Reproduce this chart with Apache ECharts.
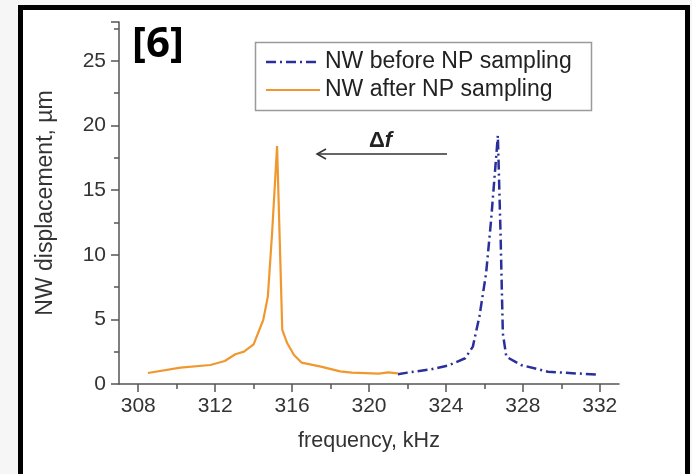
<!DOCTYPE html>
<html>
<head>
<meta charset="utf-8">
<script src="https://cdn.jsdelivr.net/npm/echarts@6/dist/echarts.min.js"></script>
<style>
  html, body { margin: 0; padding: 0; background: #f6f6f6; }
  #chart { width: 692px; height: 474px; }
</style>
</head>
<body>
<div id="chart"></div>
<script>
// Resonance curves of the nanowire (frequency in kHz, displacement in µm)
const freqBefore = [321.5, 322.0, 323.2, 324.1, 325.0, 325.4, 325.74, 326.09, 326.35, 326.7, 326.84, 326.96, 327.14, 327.9, 329.3, 331.9];
const dispBefore = [0.75, 0.88, 1.13, 1.42, 1.99, 2.89, 5.21, 8.57, 12.69, 19.2, 11.66, 3.92, 2.11, 1.47, 0.95, 0.72];

const freqAfter = [308.5, 310.2, 311.75, 312.5, 313.05, 313.5, 314.0, 314.5, 314.74, 314.96, 315.22, 315.49, 315.75, 316.1, 316.5, 317.5, 318.5, 319.1, 320.5, 321.0, 321.5];
const dispAfter = [0.85, 1.26, 1.47, 1.78, 2.3, 2.5, 3.07, 4.95, 6.76, 11.66, 18.4, 4.18, 3.15, 2.24, 1.65, 1.34, 0.98, 0.88, 0.8, 0.9, 0.82];

const seriesNames = ['NW before NP sampling', 'NW after NP sampling'];
const xMajorTicks = [308, 312, 316, 320, 324, 328, 332];
const xMinorTicks = [310, 314, 318, 322, 326, 330];
const yTickLabels = [0, 5, 10, 15, 20, 25];

const pairs = (xs, ys) => xs.map((x, i) => [x, ys[i]]);

const chart = echarts.init(document.getElementById('chart'), null, { renderer: 'canvas' });
const font = 'Liberation Sans, Arial, sans-serif';
const axisColor = '#555';
const blue = '#2b2f9c';
const orange = '#f0982f';

chart.setOption({
  backgroundColor: 'transparent',
  animation: false,
  grid: { left: 119, right: 73, top: 22, bottom: 90 },
  xAxis: [{
    type: 'value',
    min: 307,
    max: 333,
    name: 'frequency, kHz',
    nameLocation: 'middle',
    nameGap: 46,
    nameTextStyle: { fontFamily: font, fontSize: 21.5, color: '#333' },
    splitLine: { show: false },
    axisLine: { onZero: false, lineStyle: { color: axisColor, width: 1.5 } },
    axisTick: { customValues: xMajorTicks, length: 8, lineStyle: { color: axisColor, width: 1.5 } },
    axisLabel: { customValues: xMajorTicks, margin: 12, fontFamily: font, fontSize: 21, color: '#333' }
  }, {
    // minor ticks between the labelled frequencies
    type: 'value',
    min: 307,
    max: 333,
    position: 'bottom',
    splitLine: { show: false },
    axisLine: { show: false },
    axisTick: { customValues: xMinorTicks, length: 5, lineStyle: { color: axisColor, width: 1.5 } },
    axisLabel: { show: false }
  }],
  yAxis: {
    type: 'value',
    min: 0,
    max: 28,
    interval: 5,
    name: 'NW displacement, µm',
    nameLocation: 'middle',
    nameRotate: 90,
    nameGap: 62,
    nameTextStyle: { fontFamily: font, fontSize: 23, color: '#333' },
    splitLine: { show: false },
    axisLine: { show: true, lineStyle: { color: axisColor, width: 1.5 } },
    axisTick: { show: true, length: 8, lineStyle: { color: axisColor, width: 1.5 } },
    minorTick: { show: true, splitNumber: 2, length: 5, lineStyle: { color: axisColor, width: 1.5 } },
    axisLabel: { customValues: yTickLabels, margin: 13, fontFamily: font, fontSize: 21, color: '#333' }
  },
  series: [{
    name: seriesNames[0],
    type: 'line',
    data: pairs(freqBefore, dispBefore),
    symbol: 'none',
    z: 3,
    lineStyle: { color: blue, width: 2.5, type: [10, 4, 2, 4] }
  }, {
    name: seriesNames[1],
    type: 'line',
    data: pairs(freqAfter, dispAfter),
    symbol: 'none',
    z: 4,
    lineStyle: { color: orange, width: 2.2 }
  }],
  graphic: [
    // outer black frame
    { type: 'rect', z: -10, shape: { x: 20.5, y: 7.5, width: 667, height: 470 },
      style: { fill: '#fff', stroke: '#000', lineWidth: 5 } },
    // legend box with line samples and series names
    { type: 'rect', z: 1, shape: { x: 255.5, y: 42.5, width: 336, height: 68 },
      style: { fill: 'none', stroke: '#9a9a9a', lineWidth: 1.5 } },
    { type: 'line', shape: { x1: 266, y1: 62, x2: 320, y2: 62 },
      style: { stroke: blue, lineWidth: 2.5, lineDash: [10, 4, 2, 4] } },
    { type: 'line', shape: { x1: 266, y1: 90, x2: 320, y2: 90 },
      style: { stroke: orange, lineWidth: 2.2 } },
    { type: 'text', x: 325, y: 62,
      style: { text: seriesNames[0], fontFamily: font, fontSize: 23, fill: '#222', verticalAlign: 'middle' } },
    { type: 'text', x: 325, y: 90,
      style: { text: seriesNames[1], fontFamily: font, fontSize: 23, fill: '#222', verticalAlign: 'middle' } },
    // reference tag
    { type: 'text', left: 132, top: 24,
      style: { text: '[6]', fontFamily: 'Open Sans, sans-serif', fontWeight: 'bold', fontSize: 42, fill: '#000' } },
    // frequency shift arrow
    { type: 'line', shape: { x1: 447, y1: 154, x2: 317, y2: 154 }, style: { stroke: '#333', lineWidth: 1.5 } },
    { type: 'polyline', shape: { points: [[326, 149], [317, 154], [326, 159]] }, style: { stroke: '#333', lineWidth: 1.5, fill: 'none' } },
    { type: 'text', left: 369, top: 130,
      style: { text: '{d|Δ}{f|f}', rich: {
        d: { fontFamily: font, fontWeight: 'bold', fontSize: 22, fill: '#222' },
        f: { fontFamily: font, fontWeight: 'bold', fontStyle: 'italic', fontSize: 22, fill: '#222' }
      } } }
  ]
});
</script>
</body>
</html>
